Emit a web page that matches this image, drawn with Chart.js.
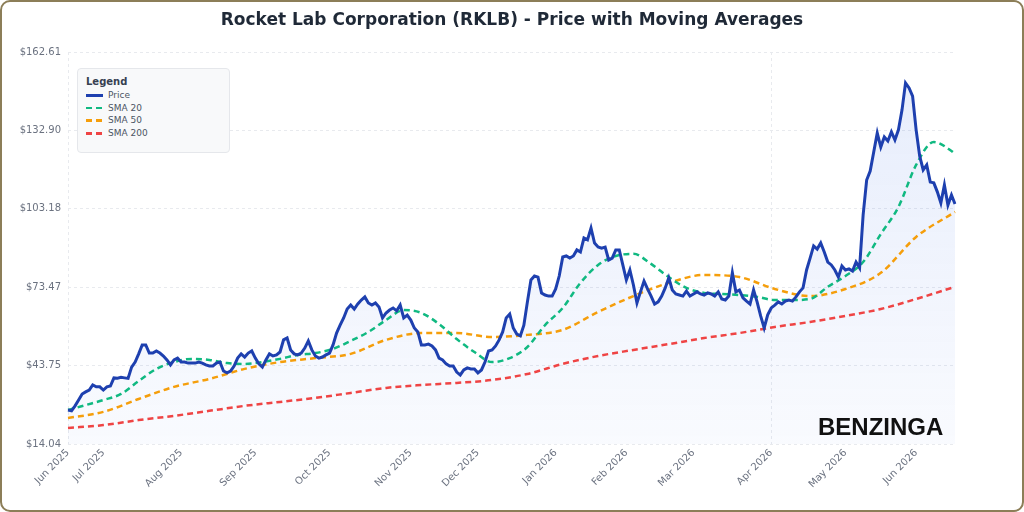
<!DOCTYPE html>
<html>
<head>
<meta charset="utf-8">
<title>RKLB - Price with Moving Averages</title>
<script src="https://cdn.jsdelivr.net/npm/chart.js@4.4.1/dist/chart.umd.min.js"></script>
<style>
  html, body { margin: 0; padding: 0; background: #fff; }
  #wrap { position: relative; width: 1024px; height: 512px; overflow: hidden; background: #fff; }
  #chart { position: absolute; left: 0; top: 0; }
  #frame {
    position: absolute; left: 0; top: 0; width: 1024px; height: 512px;
    box-sizing: border-box; border: 2px solid #8c7e58; border-radius: 10px;
    pointer-events: none;
  }
  #title {
    position: absolute; left: 0; top: 9px; width: 1024px; text-align: center;
    font-family: "DejaVu Sans", sans-serif; font-weight: bold; font-size: 17px;
    line-height: 20px; color: #1f2937;
  }
  #legend {
    position: absolute; left: 77px; top: 68px; width: 153px; height: 85px;
    box-sizing: border-box; background: #f8f9fa; border: 1px solid #e5e7eb;
    border-radius: 4px; padding: 6px 0 0 8px;
    font-family: "DejaVu Sans", sans-serif; font-size: 9px; color: #4b5563;
  }
  #legend .ttl { font-weight: bold; font-size: 10px; color: #374151; height: 14px; line-height: 14px; }
  #legend .row { height: 12.7px; line-height: 12.7px; display: flex; align-items: center; }
  #legend .sw { display: inline-block; width: 17px; height: 2.5px; margin-right: 5px; }
  #brand {
    position: absolute; left: 818px; top: 415px;
    font-family: "Liberation Sans", Arial, sans-serif; font-weight: bold;
    font-size: 24px; line-height: 1; color: #111; letter-spacing: 0px;
  }
</style>
</head>
<body>
<div id="wrap">
  <canvas id="chart" width="1024" height="512"></canvas>
  <div id="title">Rocket Lab Corporation (RKLB) - Price with Moving Averages</div>
  <div id="legend">
    <div class="ttl">Legend</div>
    <div class="row"><span class="sw" style="background:#1e40af;height:3px"></span>Price</div>
    <div class="row"><span class="sw" style="background:linear-gradient(to right,#10b981 0 6px,transparent 6px 10px,#10b981 10px 16px,transparent 16px)"></span>SMA 20</div>
    <div class="row"><span class="sw" style="background:linear-gradient(to right,#f59e0b 0 6px,transparent 6px 10px,#f59e0b 10px 16px,transparent 16px)"></span>SMA 50</div>
    <div class="row"><span class="sw" style="background:linear-gradient(to right,#ef4444 0 6px,transparent 6px 10px,#ef4444 10px 16px,transparent 16px)"></span>SMA 200</div>
  </div>
  <div id="brand">BENZINGA</div>
  <div id="frame"></div>
</div>
<script>
// trading days: Jun 16 2025 -> Jun 16 2026, market holidays skipped
const firstDay = '2025-06-16';
const holidays = ['2025-06-19', '2025-07-04', '2025-09-01', '2025-11-27', '2025-12-25',
                  '2026-01-01', '2026-01-19', '2026-02-16', '2026-04-03', '2026-05-25'];
const monthNames = ['Jan', 'Feb', 'Mar', 'Apr', 'May', 'Jun', 'Jul', 'Aug', 'Sep', 'Oct', 'Nov', 'Dec'];

// closing price, one value per trading day
const price = [
  26.9, 26.6, 28.5, 30.7, 33.0, 33.8, 34.5, 36.4, 35.7, 35.7,
  34.5, 35.7, 36.0, 39.1, 39.0, 39.3, 39.1, 38.9, 43.2, 45.1,
  48.2, 51.6, 51.6, 48.5, 48.5, 49.3, 48.5, 47.4, 45.9, 44.0,
  45.9, 46.6, 45.1, 45.1, 44.7, 44.7, 44.7, 45.1, 44.7, 44.0,
  43.6, 43.6, 44.7, 45.1, 41.7, 41.0, 41.7, 43.6, 46.6, 48.2,
  47.0, 48.5, 49.3, 46.6, 44.4, 43.2, 45.9, 48.2, 47.4, 47.8,
  48.9, 53.5, 54.2, 49.7, 48.2, 47.8, 48.5, 50.4, 53.1, 49.7,
  47.4, 46.6, 47.0, 47.8, 48.5, 51.6, 56.1, 59.1, 61.8, 65.2,
  66.7, 65.2, 67.1, 68.6, 69.8, 67.5, 66.7, 67.5, 66.0, 61.8,
  63.7, 64.8, 65.6, 64.5, 66.7, 61.8, 62.9, 61.0, 58.0, 56.5,
  51.6, 51.6, 51.9, 51.2, 49.7, 46.6, 45.9, 44.4, 43.6, 43.6,
  41.3, 40.2, 42.1, 42.9, 42.5, 42.5, 41.0, 42.1, 45.1, 49.3,
  49.7, 51.2, 53.5, 56.5, 61.8, 63.3, 58.0, 55.7, 55.0, 59.1,
  67.9, 76.2, 77.7, 77.3, 71.3, 70.5, 70.1, 70.1, 72.8, 77.7,
  84.9, 85.3, 84.5, 85.3, 87.6, 86.8, 92.1, 91.4, 95.9, 90.2,
  88.7, 88.3, 88.7, 83.8, 84.5, 87.6, 87.6, 81.9, 76.2, 80.0,
  74.3, 67.5, 71.7, 75.8, 72.8, 70.1, 67.1, 67.9, 70.1, 73.2,
  77.0, 72.4, 70.9, 70.5, 70.1, 72.0, 70.1, 70.9, 71.7, 70.9,
  70.5, 71.3, 70.9, 70.1, 71.7, 69.0, 68.6, 70.1, 78.9, 71.7,
  72.4, 69.4, 68.2, 67.1, 72.4, 67.9, 62.6, 58.0, 63.0, 65.6,
  66.7, 67.9, 67.1, 68.2, 68.6, 68.2, 69.8, 71.7, 73.2, 80.0,
  84.5, 89.1, 87.9, 90.2, 86.8, 83.0, 81.9, 80.0, 77.3, 81.5,
  80.0, 80.4, 79.6, 83.0, 80.8, 100.8, 114.1, 117.5, 124.7, 131.9,
  126.6, 130.4, 128.9, 132.3, 129.3, 133.1, 140.6, 150.9, 149.0, 145.9,
  133.1, 123.2, 117.9, 119.8, 113.3, 113.0, 109.6, 105.4, 112.2, 104.6,
  108.4, 105.0
];

// moving averages, read at sampled trading-day indexes
const sma20Days = [0, 5, 10, 15, 20, 25, 30, 35, 40, 45, 50, 55, 60, 65, 70, 75, 80, 85, 90, 95,
  100, 105, 110, 115, 120, 125, 130, 135, 140, 145, 150, 155, 160, 165, 170, 175, 180, 185, 190, 195,
  200, 205, 210, 215, 220, 225, 230, 235, 240, 245, 250, 251];
const sma20 = [26.9, 28.8, 30.7, 33.0, 37.9, 42.5, 45.1, 46.3, 45.9, 44.7, 44.4, 45.1, 46.3, 47.8, 48.5, 50.1, 53.1, 56.5, 61.0, 64.8,
  63.7, 59.5, 53.8, 48.9, 45.1, 46.6, 50.8, 59.1, 65.6, 75.1, 81.9, 85.3, 86.1, 82.3, 77.3, 73.2, 71.3, 70.9, 70.5, 69.8,
  68.6, 68.6, 69.0, 73.6, 77.7, 83.0, 93.6, 103.9, 119.8, 128.5, 125.1, 124.0];

const smaLongDays = [0, 10, 20, 30, 40, 50, 60, 70, 80, 90, 100, 110, 120, 130, 140, 150, 160, 170, 180, 190,
  200, 210, 220, 230, 240, 251];
const sma50 = [23.9, 26.2, 31.1, 35.7, 38.7, 42.5, 45.1, 46.6, 48.2, 53.5, 56.1, 56.1, 54.6, 55.4, 57.3, 64.1, 70.1, 75.1, 78.1, 77.3,
  72.8, 70.1, 72.8, 78.9, 92.5, 102.0];
const sma200 = [20.1, 21.2, 23.1, 24.7, 26.6, 28.5, 30.0, 31.5, 33.4, 35.3, 36.4, 37.2, 38.3, 40.6, 44.4, 47.4, 49.7, 51.9, 54.2, 56.1,
  58.4, 60.3, 62.6, 65.2, 69.0, 73.6];

const yTicks = [14.04, 43.75, 73.47, 103.18, 132.90, 162.61];

// build the trading-day labels
const labels = [];
let d = new Date(firstDay + 'T00:00:00Z');
while (labels.length < price.length) {
  const iso = d.toISOString().slice(0, 10);
  const wd = d.getUTCDay();
  if (wd !== 0 && wd !== 6 && !holidays.includes(iso)) labels.push(iso);
  d.setUTCDate(d.getUTCDate() + 1);
}

function monthStart(i) {
  return i === 0 || labels[i].slice(0, 7) !== labels[i - 1].slice(0, 7);
}

function pick(days, vals) {
  return days.map((k, j) => ({ x: labels[k], y: vals[j] }));
}

const ctx = document.getElementById('chart').getContext('2d');
const grad = ctx.createLinearGradient(0, 52, 0, 444);
grad.addColorStop(0, 'rgba(59,110,230,0.13)');
grad.addColorStop(1, 'rgba(59,110,230,0.03)');

const tickFont = { family: 'DejaVu Sans', size: 10 };

new Chart(ctx, {
  type: 'line',
  data: {
    labels: labels,
    datasets: [
      {
        label: 'Price', data: price, borderColor: '#1e40af', borderWidth: 3,
        pointRadius: 0, fill: 'start', backgroundColor: grad, tension: 0
      },
      {
        label: 'SMA 20', data: pick(sma20Days, sma20), borderColor: '#10b981', borderWidth: 2.5,
        borderDash: [6, 4], pointRadius: 0, fill: false, cubicInterpolationMode: 'monotone'
      },
      {
        label: 'SMA 50', data: pick(smaLongDays, sma50), borderColor: '#f59e0b', borderWidth: 2.5,
        borderDash: [6, 4], pointRadius: 0, fill: false, cubicInterpolationMode: 'monotone'
      },
      {
        label: 'SMA 200', data: pick(smaLongDays, sma200), borderColor: '#ef4444', borderWidth: 2.5,
        borderDash: [6, 4], pointRadius: 0, fill: false, cubicInterpolationMode: 'monotone'
      }
    ]
  },
  options: {
    responsive: false,
    animation: false,
    layout: { padding: { left: 0, right: 69, top: 52, bottom: 0 } },
    plugins: {
      legend: { display: false },
      tooltip: { enabled: false },
      filler: { drawTime: 'beforeDatasetsDraw' },
      title: { display: false }
    },
    scales: {
      x: {
        type: 'category',
        afterFit: (s) => { s.height = 68; },
        border: { display: false, dash: [3, 3] },
        grid: {
          drawTicks: false,
          color: (c) => (c.index !== undefined && monthStart(c.index) ? '#e8eaee' : 'transparent')
        },
        ticks: {
          autoSkip: false, maxRotation: 45, minRotation: 45, padding: 3,
          color: '#6b7280', font: tickFont,
          callback: function (v, i) {
            if (!monthStart(i)) return null;
            const l = labels[i];
            return monthNames[+l.slice(5, 7) - 1] + ' ' + l.slice(0, 4);
          }
        }
      },
      y: {
        min: 14.04,
        max: 162.61,
        afterFit: (s) => { s.width = 68; },
        afterBuildTicks: (s) => { s.ticks = yTicks.map((v) => ({ value: v })); },
        border: { display: false, dash: [3, 3] },
        grid: { drawTicks: false, color: '#e8eaee' },
        ticks: {
          padding: 7, color: '#6b7280', font: tickFont,
          callback: (v) => '$' + Number(v).toFixed(2)
        }
      }
    }
  }
});
</script>
</body>
</html>
